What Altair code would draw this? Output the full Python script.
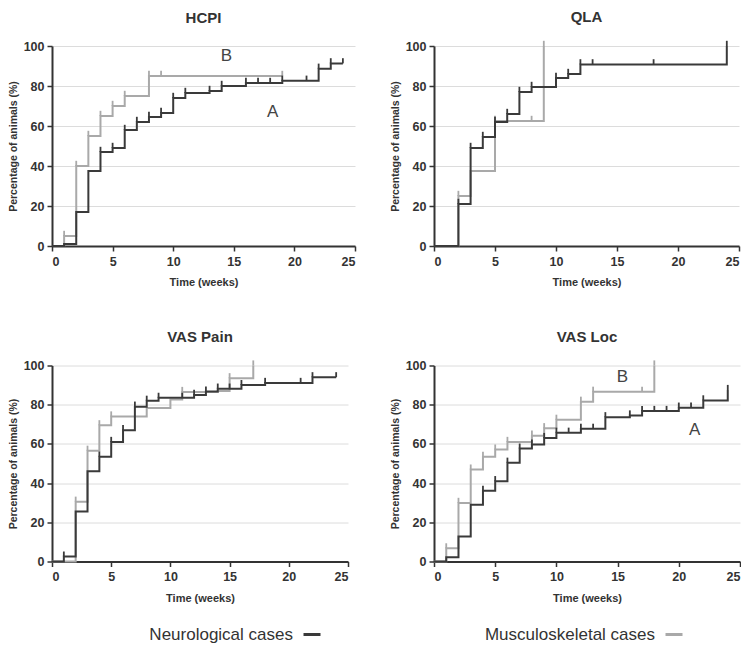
import altair as alt
import pandas as pd

NEURO = "Neurological cases"
MUSC = "Musculoskeletal cases"
DARK = "#3a3a3a"
LIGHT = "#a9a9a9"
FONT = "Liberation Sans"

# ---------------- HCPI ----------------
hcpi_neuro_t = [0, 1, 2, 3, 4, 5, 6, 7, 8, 9, 10, 11, 13, 14, 16, 19, 22, 23, 24]
hcpi_neuro_v = [0, 1, 17, 37.5, 47, 49, 58, 62, 64.5, 66.5, 74, 76.5, 77.5, 80, 81.5, 82.6, 88.6, 91.3, 91.3]
hcpi_neuro_cens = [4, 5, 6, 7, 8, 9, 10, 11, 13, 14, 16, 17, 18, 19, 21, 22, 23, 24]
hcpi_musc_t = [0, 1, 2, 3, 4, 5, 6, 8, 19]
hcpi_musc_v = [0, 5, 40, 55, 65, 70, 75, 85, 85]
hcpi_musc_cens = [1, 2, 3, 4, 5, 6, 8, 9, 19]
hcpi_lab = ["B", "A"]
hcpi_lab_x = [14.4, 18.2]
hcpi_lab_y = [94.8, 66.8]

# ---------------- QLA ----------------
qla_neuro_t = [0, 2, 3, 4, 5, 6, 7, 8, 10, 11, 12, 24]
qla_neuro_v = [0, 21, 49, 54.5, 62, 66, 77, 79.5, 84, 86, 90.8, 100]
qla_neuro_cens = [2, 3, 4, 5, 6, 7, 8, 10, 11, 12, 13, 18, 24]
qla_musc_t = [0, 2, 3, 5, 9]
qla_musc_v = [0, 25, 37.5, 62.5, 100]
qla_musc_cens = [2, 5, 8, 9]

# ---------------- VAS Pain ----------------
pain_neuro_t = [0, 1, 2, 3, 4, 5, 6, 7, 8, 9, 12, 13, 14, 16, 18, 22, 24]
pain_neuro_v = [0, 2.5, 25.5, 46, 53.5, 61, 67, 79, 82, 83.5, 85, 86.7, 88.2, 90, 91.1, 94, 94]
pain_neuro_cens = [1, 4, 5, 6, 7, 8, 9, 11, 12, 13, 14, 15, 16, 18, 21, 22, 24]
pain_musc_t = [0, 2, 3, 4, 5, 8, 10, 11, 14, 15, 17]
pain_musc_v = [0, 30.5, 56.5, 69.5, 74, 78.3, 82.6, 86.5, 87, 93.5, 100]
pain_musc_cens = [2, 3, 4, 5, 11, 15, 17]

# ---------------- VAS Loc ----------------
loc_neuro_t = [0, 1, 2, 3, 4, 5, 6, 7, 8, 9, 10, 12, 14, 16, 17, 20, 22, 24]
loc_neuro_v = [0, 2.2, 12.8, 28.9, 36.1, 41, 50.4, 57.6, 59.7, 63, 65.7, 67.7, 73.6, 74.5, 76.8, 78.5, 82.2, 87.5]
loc_neuro_cens = [4, 5, 6, 7, 8, 9, 10, 11, 12, 13, 14, 16, 17, 18, 19, 20, 21, 22, 24]
loc_musc_t = [0, 1, 2, 3, 4, 5, 6, 8, 9, 10, 12, 13, 18]
loc_musc_v = [0, 6.7, 29.9, 46.9, 53.4, 57.1, 61, 64.2, 68, 72.3, 81.5, 86.6, 100]
loc_musc_cens = [1, 2, 3, 4, 5, 6, 8, 9, 10, 12, 13, 17, 18]
loc_lab = ["B", "A"]
loc_lab_x = [15.4, 21.3]
loc_lab_y = [94.1, 66.9]

x_ticks = [0, 5, 10, 15, 20, 25]
y_ticks = [0, 20, 40, 60, 80, 100]

color_scale = alt.Scale(domain=[NEURO, MUSC], range=[DARK, LIGHT])


def steps_df(t, v, series):
    return pd.DataFrame({"t": t, "v": v, "series": series})


def cens_df(times, t, v, series):
    vals = []
    for c in times:
        val = 0
        for tt, vv in zip(t, v):
            if tt <= c:
                val = vv
        vals.append(val)
    return pd.DataFrame({"t": times, "v": vals, "series": series})


def x_enc():
    return alt.X("t:Q", scale=alt.Scale(domain=[0, 25], nice=False),
                 axis=alt.Axis(title="Time (weeks)", values=x_ticks, grid=False))


def y_enc():
    return alt.Y("v:Q", scale=alt.Scale(domain=[0, 100], nice=False),
                 axis=alt.Axis(title="Percentage of animals (%)", values=y_ticks, grid=True))


def col():
    return alt.Color("series:N", scale=color_scale, legend=None)


def panel(name, nt, nv, nc, mt, mv, mc, labs=None, w=298, h=200):
    layers = []
    for (t, v, c, s) in [(mt, mv, mc, MUSC), (nt, nv, nc, NEURO)]:
        line = alt.Chart(steps_df(t, v, s)).mark_line(
            interpolate="step-after", strokeWidth=2
        ).encode(x=x_enc(), y=y_enc(), color=col())
        ticks = alt.Chart(cens_df(c, t, v, s)).transform_calculate(
            vtop="datum.v + 2.6"
        ).mark_rule(strokeWidth=1.8).encode(
            x=x_enc(), y=y_enc(), y2="vtop:Q", color=col()
        )
        layers += [line, ticks]
    if labs is not None:
        lab, lx, ly = labs
        ldf = pd.DataFrame({"t": lx, "v": ly, "lab": lab})
        layers.append(
            alt.Chart(ldf).mark_text(fontSize=17, font=FONT, color="#444",
                                     baseline="middle", align="center")
            .encode(x=x_enc(), y=y_enc(), text="lab:N")
        )
    return alt.layer(*layers).properties(
        width=w, height=h,
        title=alt.TitleParams(name, frame="group", anchor="middle", fontSize=15,
                              fontWeight="bold", color="#333", font=FONT, offset=14.5),
    )


hcpi = panel("HCPI", hcpi_neuro_t, hcpi_neuro_v, hcpi_neuro_cens,
             hcpi_musc_t, hcpi_musc_v, hcpi_musc_cens, (hcpi_lab, hcpi_lab_x, hcpi_lab_y), w=303)
qla = panel("QLA", qla_neuro_t, qla_neuro_v, qla_neuro_cens,
            qla_musc_t, qla_musc_v, qla_musc_cens, w=305)
pain = panel("VAS Pain", pain_neuro_t, pain_neuro_v, pain_neuro_cens,
             pain_musc_t, pain_musc_v, pain_musc_cens, w=296, h=196)
loc = panel("VAS Loc", loc_neuro_t, loc_neuro_v, loc_neuro_cens,
            loc_musc_t, loc_musc_v, loc_musc_cens, (loc_lab, loc_lab_x, loc_lab_y), w=306, h=196)

# custom legend (label then line swatch)
leg_df = pd.DataFrame({"series": [NEURO, MUSC]})
leg_x = alt.X("series:N", axis=None,
              scale=alt.Scale(type="point", domain=[NEURO, MUSC], range=[241, 603], padding=0))
leg_text = alt.Chart(leg_df).mark_text(
    align="right", baseline="middle", fontSize=17, font=FONT, color="#333"
).encode(x=leg_x, y=alt.value(8), text="series:N")
leg_sym = alt.Chart(leg_df).mark_point(
    shape="stroke", size=289, strokeWidth=3, xOffset=19, filled=False, opacity=1
).encode(x=leg_x, y=alt.value(8), color=col())
legend = alt.layer(leg_text, leg_sym).properties(width=640, height=16)

row1 = alt.hconcat(hcpi, qla, spacing=34)
row2 = alt.hconcat(pain, loc, spacing=41)
grid = alt.vconcat(row1, row2, spacing=41.5)

chart = alt.vconcat(grid, legend, spacing=22.5).properties(
    padding={"left": 0, "top": 2, "right": 0, "bottom": 0}
).configure_view(stroke=None).configure_axis(
    domainColor="#333", domainWidth=2, tickColor="#333", tickWidth=1.5, tickSize=5,
    labelFont=FONT, labelFontSize=12.5, labelFontWeight="bold", labelColor="#333",
    labelPadding=3, titleFont=FONT, titleFontSize=10.5, titleFontWeight="bold",
    titleColor="#333", titlePadding=5, gridColor="#dcdcdc", gridWidth=1
).configure_axisX(
    titleFontSize=11, labelPadding=4, titlePadding=9
)

chart.save("out.html", embed_options={"renderer": "svg", "actions": False})
